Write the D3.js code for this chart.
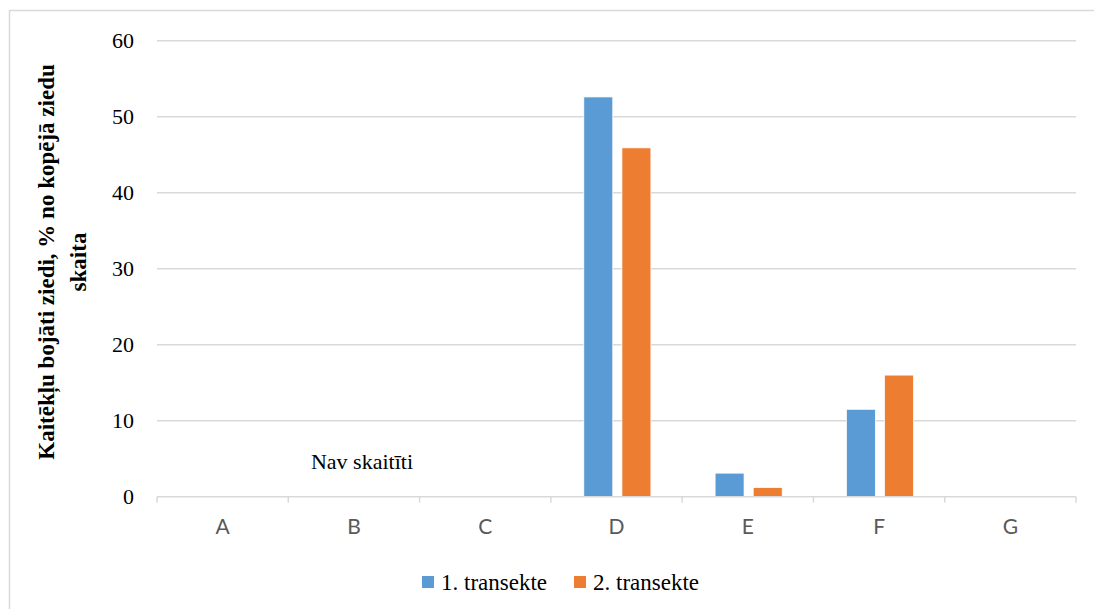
<!DOCTYPE html>
<html><head><meta charset="utf-8">
<script src="https://cdn.jsdelivr.net/npm/d3@7"></script>
<style>body{margin:0;background:#fff}svg{display:block}</style>
</head><body>
<svg id="c" width="1094" height="609"></svg>
<script>
const categories = ["A","B","C","D","E","F","G"];
const series = ["1. transekte","2. transekte"];
const transekte1 = [null,null,null,52.6,3.1,11.5,null];
const transekte2 = [null,null,null,45.9,1.2,16.0,null];
const yTicks = [0,10,20,30,40,50,60];
const colors = ["#5B9BD5","#ED7D31"];
const yTitle = ["Kaitēkļu bojāti ziedi, % no kopējā ziedu","skaita"];
const note = "Nav skaitīti";

const svg = d3.select("#c");
const serif = "'Liberation Serif','Times New Roman',serif";
svg.append("rect").attr("x",9.5).attr("y",10.5).attr("width",1100).attr("height",700)
  .attr("fill","#fff").attr("stroke","#D9D9D9").attr("stroke-width",1.5);

const L=157, R=1076, T=40.7, B=496.7;
const x = d3.scaleBand().domain(categories).range([L,R]).padding(0);
const y = d3.scaleLinear().domain([0,60]).range([B,T]);
const bw = x.bandwidth();
const xs = d3.scaleBand().domain(series).range([bw*0.251, bw*0.762]).paddingInner(0.24);

// gridlines
svg.append("g").selectAll("line").data(yTicks.filter(d=>d>0)).join("line")
  .attr("x1",L).attr("x2",R).attr("y1",d=>y(d)).attr("y2",d=>y(d))
  .attr("stroke","#D9D9D9").attr("stroke-width",1.5);

// y tick labels
svg.append("g").selectAll("text").data(yTicks).join("text")
  .attr("x",134).attr("y",d=>y(d)).attr("dy","0.35em").attr("text-anchor","end")
  .attr("font-family",serif).attr("font-size",22).attr("fill","#000").text(d=>d);

// bars
const vals=[transekte1,transekte2];
series.forEach((s,i)=>{
  svg.append("g").selectAll("rect").data(categories.map((c,j)=>({c,v:vals[i][j]})).filter(d=>d.v!=null))
    .join("rect")
    .attr("x",d=>x(d.c)+xs(s)).attr("width",xs.bandwidth())
    .attr("y",d=>y(d.v)).attr("height",d=>y(0)-y(d.v))
    .attr("fill",colors[i]).attr("stroke","#fff").attr("stroke-width",0.75);
});

// x axis
const xa = svg.append("g");
xa.append("line").attr("x1",L).attr("x2",R).attr("y1",B).attr("y2",B).attr("stroke","#D9D9D9").attr("stroke-width",1.5);
const bounds = categories.map(c=>x(c)).concat([R]);
xa.selectAll("line.t").data(bounds).join("line").attr("class","t")
  .attr("x1",d=>d).attr("x2",d=>d).attr("y1",B).attr("y2",B+6).attr("stroke","#D9D9D9").attr("stroke-width",1.5);
xa.selectAll("text").data(categories).join("text")
  .attr("x",d=>x(d)+bw/2).attr("y",527).attr("dy","0.35em").attr("text-anchor","middle")
  .attr("font-family","Lato, 'Open Sans', sans-serif").attr("font-size",21).attr("fill","#595959").text(d=>d);

// note
svg.append("text").attr("x",362).attr("y",469).attr("text-anchor","middle")
  .attr("font-family",serif).attr("font-size",22).attr("fill","#000").text(note);

// y title
const yt = svg.append("text").attr("transform","translate(0,262) rotate(-90)")
  .attr("text-anchor","middle").attr("font-family",serif).attr("font-size",23).attr("font-weight","bold");
yt.append("tspan").attr("x",0).attr("y",54).text(yTitle[0]);
yt.append("tspan").attr("x",0).attr("y",86).text(yTitle[1]);

// legend
const lg = svg.append("g");
const lx=[422,574];
series.forEach((s,i)=>{
  lg.append("rect").attr("x",lx[i]).attr("y",576).attr("width",12).attr("height",12).attr("fill",colors[i]);
  lg.append("text").attr("x",lx[i]+19).attr("y",582).attr("dy","0.35em")
    .attr("font-family",serif).attr("font-size",23).attr("fill","#000").text(s);
});
</script>
</body></html>
